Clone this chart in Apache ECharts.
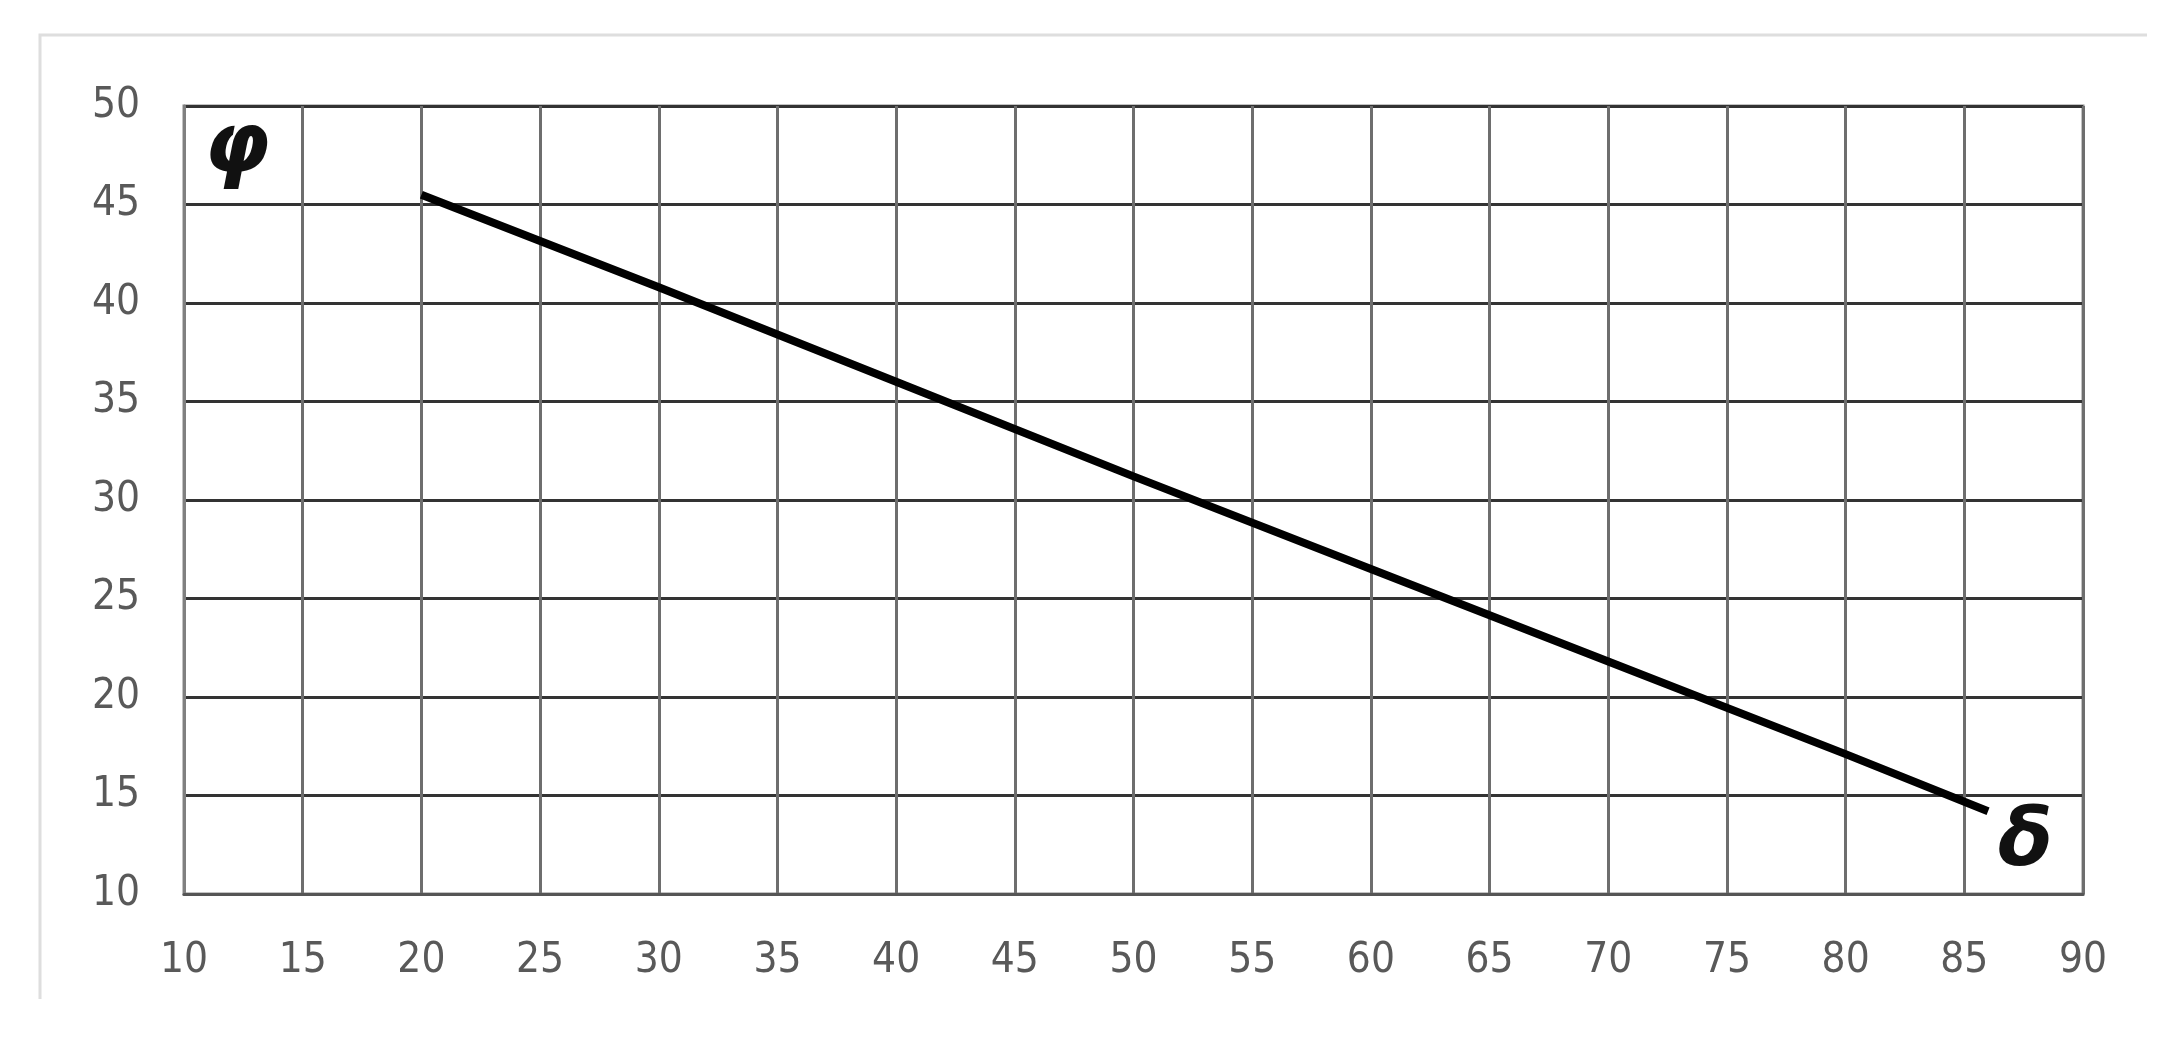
<!DOCTYPE html>
<html>
<head>
<meta charset="utf-8">
<script src="https://cdn.jsdelivr.net/npm/echarts@6/dist/echarts.min.js"></script>
<style>
  html, body { margin: 0; padding: 0; background: #fff; }
  #chart { width: 2171px; height: 1037px; }
</style>
</head>
<body>
<div id="chart"></div>
<script>
  // values
  var deltaValues = [20, 30, 40, 50, 60, 70, 80, 86];
  var phiValues = [45.5, 40.8, 36.0, 31.2, 26.5, 21.8, 17.1, 14.2];
  var xRange = [10, 90];
  var yRange = [10, 50];
  var tickStep = 5;

  var points = deltaValues.map(function (d, i) { return [d, phiValues[i]]; });

  var labelFont = {
    color: '#595959',
    fontSize: 42,
    fontFamily: '"Liberation Sans Narrow", "DejaVu Sans Condensed", "Liberation Sans", sans-serif'
  };

  var myChart = echarts.init(document.getElementById('chart'));
  myChart.setOption({
    backgroundColor: '#fff',
    animation: false,
    grid: {
      left: 184,
      right: 88,
      top: 106,
      bottom: 143,
      show: true,
      borderColor: '#888',
      borderWidth: 3
    },
    xAxis: {
      type: 'value',
      min: xRange[0],
      max: xRange[1],
      interval: tickStep,
      axisLine: { show: true, lineStyle: { color: '#555', width: 3 } },
      axisTick: { show: false },
      splitLine: { show: true, lineStyle: { color: '#6e6e6e', width: 3 } },
      axisLabel: Object.assign({ margin: 46 }, labelFont)
    },
    yAxis: {
      type: 'value',
      min: yRange[0],
      max: yRange[1],
      interval: tickStep,
      axisLine: { show: true, lineStyle: { color: '#808080', width: 3 } },
      axisTick: { show: false },
      splitLine: { show: true, lineStyle: { color: '#333', width: 3 } },
      axisLabel: Object.assign({ margin: 44 }, labelFont)
    },
    series: [{
      type: 'line',
      data: points,
      symbol: 'none',
      lineStyle: { color: '#000', width: 8 },
      z: 5
    }],
    graphic: [
      // light frame of the chart area
      {
        type: 'polyline',
        shape: { points: [[40, 999], [40, 35], [2147, 35]] },
        style: { stroke: '#dedede', lineWidth: 3, fill: null }
      },
      {
        type: 'text',
        left: 204,
        top: 108,
        style: {
          text: 'φ',
          font: 'italic bold 84px "DejaVu Sans", sans-serif',
          fill: '#111'
        }
      },
      {
        type: 'text',
        left: 1998,
        top: 804,
        style: {
          text: 'δ',
          font: 'italic bold 80px "DejaVu Sans", sans-serif',
          fill: '#111'
        }
      }
    ]
  });
</script>
</body>
</html>
